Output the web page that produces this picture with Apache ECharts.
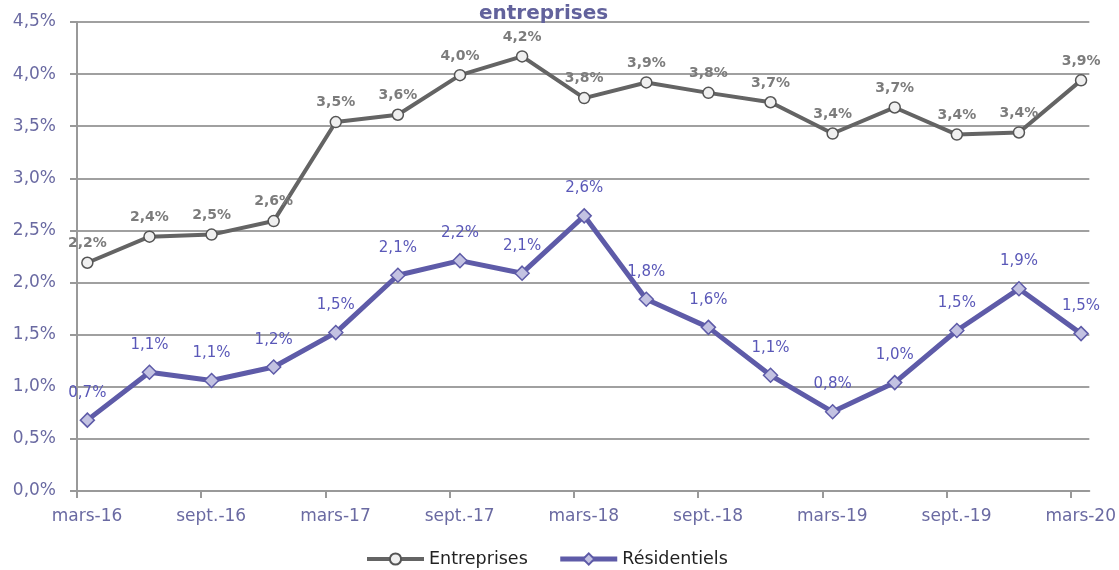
<!DOCTYPE html>
<html>
<head>
    <meta charset="utf-8">
    <script src="https://cdn.jsdelivr.net/npm/echarts@6/dist/echarts.min.js"></script>
    <style>
        html, body { margin: 0; padding: 0; background: #fff; }
    </style>
</head>
<body>
<div id="main" style="width: 1119px;height:570px;"></div>
<script type="text/javascript">
    // trimestres (année-mois), de mars 2016 à mars 2020
    var periods = ['2016-03', '2016-06', '2016-09', '2016-12', '2017-03', '2017-06', '2017-09', '2017-12',
        '2018-03', '2018-06', '2018-09', '2018-12', '2019-03', '2019-06', '2019-09', '2019-12', '2020-03'];
    var tickLabels = ['mars-16', 'sept.-16', 'mars-17', 'sept.-17', 'mars-18', 'sept.-18', 'mars-19', 'sept.-19', 'mars-20'];
    var entreprises = [2.19, 2.44, 2.46, 2.59, 3.54, 3.61, 3.99, 4.17, 3.77, 3.92, 3.82, 3.73, 3.43, 3.68, 3.42, 3.44, 3.94];
    var residentiels = [0.68, 1.14, 1.06, 1.19, 1.52, 2.07, 2.21, 2.09, 2.64, 1.84, 1.57, 1.11, 0.76, 1.04, 1.54, 1.94, 1.51];

    // position en mois depuis mars 2016 (milieu du mois)
    function monthPos(p) {
        var y = +p.slice(0, 4), m = +p.slice(5, 7);
        return (y - 2016) * 12 + (m - 3) + 0.5;
    }
    function pct(v) {
        return v.toFixed(1).replace('.', ',') + '%';
    }
    function pairs(vals) {
        return vals.map(function (v, i) { return [monthPos(periods[i]), v]; });
    }
    var tickValues = tickLabels.map(function (l, i) { return i * 6; });

    var myChart = echarts.init(document.getElementById('main'));
    var font = 'DejaVu Sans';

    var option = {
        animation: false,
        title: {
            text: 'entreprises',
            left: 474,
            top: -1,
            textStyle: { fontFamily: font, fontSize: 20, fontWeight: 'bold', color: '#62629c', lineHeight: 20 }
        },
        legend: {
            left: 360,
            top: 545,
            itemWidth: 57,
            itemHeight: 14,
            itemGap: 30,
            textStyle: { fontFamily: font, fontSize: 17.5, color: '#222' },
            data: [
                { name: 'Entreprises', lineStyle: { width: 4 } },
                { name: 'Résidentiels', lineStyle: { width: 5 } }
            ]
        },
        grid: { left: 77, right: 29, top: 22, bottom: 79 },
        xAxis: {
            type: 'value',
            min: 0,
            max: 48.9,
            interval: 6,
            splitLine: { show: false },
            axisLine: { lineStyle: { color: '#999', width: 2 } },
            axisTick: { show: true, length: 7, customValues: tickValues, lineStyle: { color: '#999', width: 2 } },
            axisLabel: {
                customValues: tickValues,
                fontFamily: font,
                fontSize: 17,
                color: '#6a6aa2',
                margin: 17,
                padding: [0, 0, 0, 20],
                formatter: function (v) {
                    var i = Math.round(v / 6);
                    return tickLabels[i] || '';
                }
            }
        },
        yAxis: {
            type: 'value',
            min: 0,
            max: 4.5,
            interval: 0.5,
            axisLine: { show: true, lineStyle: { color: '#999', width: 2 } },
            axisTick: { show: true, length: 7, lineStyle: { color: '#999', width: 2 } },
            splitLine: { lineStyle: { color: '#a0a0a0', width: 2 } },
            axisLabel: {
                fontFamily: font,
                fontSize: 17,
                color: '#6a6aa2',
                margin: 21,
                formatter: pct
            }
        },
        series: [
            {
                name: 'Entreprises',
                type: 'line',
                data: pairs(entreprises),
                symbol: 'circle',
                symbolSize: 11,
                color: '#646464',
                lineStyle: { color: '#646464', width: 4 },
                itemStyle: { color: '#f0f0f0', borderColor: '#555', borderWidth: 1.5 },
                label: {
                    show: true,
                    position: 'top',
                    distance: 6,
                    fontFamily: font,
                    fontSize: 14,
                    fontWeight: 'bold',
                    color: '#7c7c7c',
                    formatter: function (p) { return pct(p.value[1]); }
                },
                z: 3
            },
            {
                name: 'Résidentiels',
                type: 'line',
                data: pairs(residentiels),
                symbol: 'diamond',
                symbolSize: 14,
                color: '#5e5ba8',
                lineStyle: { color: '#5e5ba8', width: 5 },
                itemStyle: { color: '#c3c2e2', borderColor: '#5e5ba8', borderWidth: 1.5 },
                label: {
                    show: true,
                    position: 'top',
                    distance: 12,
                    fontFamily: font,
                    fontSize: 15,
                    color: '#5a58b8',
                    formatter: function (p) { return pct(p.value[1]); }
                },
                z: 2
            }
        ]
    };

    myChart.setOption(option);
</script>
</body>
</html>
